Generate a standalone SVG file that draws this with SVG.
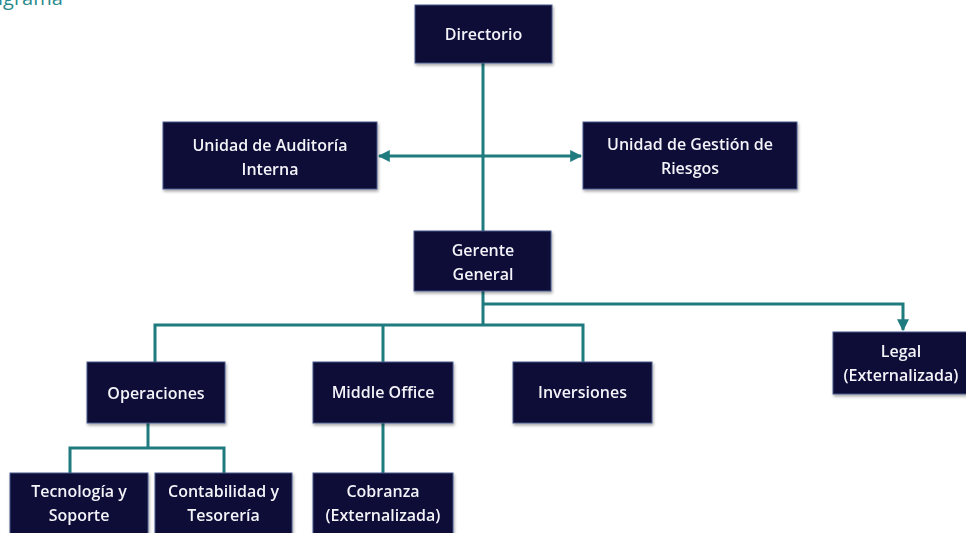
<svg xmlns="http://www.w3.org/2000/svg" width="966" height="533" viewBox="0 0 966 533">
<defs>
<style>
.box{fill:#0a0838;stroke:#4b5a8c;stroke-width:1}
.t{font-family:"Open Sans","Liberation Sans",sans-serif;font-size:16px;font-weight:600;fill:#f4f4f8;text-anchor:middle}
.c{fill:none;stroke:#1f7b7e;stroke-width:3}
.title{font-family:"Open Sans","Liberation Sans",sans-serif;font-size:20px;fill:#2a8a8c}
</style>
<marker id="ah" viewBox="0 0 10 10" refX="9" refY="5" markerWidth="4" markerHeight="4" orient="auto-start-reverse" markerUnits="strokeWidth">
<path d="M0,0 L10,5 L0,10 z" fill="#1f7b7e"/>
</marker>
<filter id="sh" x="-10%" y="-10%" width="130%" height="130%">
<feDropShadow dx="1" dy="2" stdDeviation="1.5" flood-color="#000" flood-opacity="0.35"/>
</filter>
</defs>
<rect width="966" height="533" fill="#ffffff"/>
<text class="title" x="-2" y="5">igrama</text>
<g id="connectors">
<path class="c" d="M483,63 V231"/>
<path class="c" d="M483,156 H379" marker-end="url(#ah)"/>
<path class="c" d="M483,156 H581" marker-end="url(#ah)"/>
<path class="c" d="M483,291 V325"/>
<path class="c" d="M483,304 H903 V330" marker-end="url(#ah)"/>
<path class="c" d="M155,362 V325 H583 V362"/>
<path class="c" d="M383,325 V362"/>
<path class="c" d="M148,423 V448"/>
<path class="c" d="M70,473 V448 H224 V473"/>
<path class="c" d="M383,423 V473"/>
</g>
<g id="directorio" filter="url(#sh)"><rect class="box" x="415" y="5" width="137" height="58"/><text class="t" x="483.5" y="40">Directorio</text></g>
<g id="auditoria" filter="url(#sh)"><rect class="box" x="163" y="122" width="214" height="67"/><text class="t" x="270" y="151">Unidad de Auditoría</text><text class="t" x="270" y="175">Interna</text></g>
<g id="riesgos" filter="url(#sh)"><rect class="box" x="583" y="122" width="214" height="67"/><text class="t" x="690" y="150">Unidad de Gestión de</text><text class="t" x="690" y="174">Riesgos</text></g>
<g id="gerente" filter="url(#sh)"><rect class="box" x="414" y="231" width="137" height="60"/><text class="t" x="483" y="256">Gerente</text><text class="t" x="483" y="280">General</text></g>
<g id="operaciones" filter="url(#sh)"><rect class="box" x="87" y="362" width="138" height="61"/><text class="t" x="156" y="399">Operaciones</text></g>
<g id="middle" filter="url(#sh)"><rect class="box" x="313" y="362" width="140" height="61"/><text class="t" x="383" y="398">Middle Office</text></g>
<g id="inversiones" filter="url(#sh)"><rect class="box" x="513" y="362" width="139" height="61"/><text class="t" x="582.5" y="398">Inversiones</text></g>
<g id="legal" filter="url(#sh)"><rect class="box" x="833" y="332" width="134" height="62"/><text class="t" x="901" y="357">Legal</text><text class="t" x="901" y="381">(Externalizada)</text></g>
<g id="tecnologia" filter="url(#sh)"><rect class="box" x="10" y="473" width="138" height="62"/><text class="t" x="79" y="497">Tecnología y</text><text class="t" x="79" y="521">Soporte</text></g>
<g id="contabilidad" filter="url(#sh)"><rect class="box" x="155" y="473" width="137" height="62"/><text class="t" x="223.5" y="497">Contabilidad y</text><text class="t" x="223.5" y="521">Tesorería</text></g>
<g id="cobranza" filter="url(#sh)"><rect class="box" x="313" y="473" width="140" height="62"/><text class="t" x="383" y="497">Cobranza</text><text class="t" x="383" y="521">(Externalizada)</text></g>
</svg>
